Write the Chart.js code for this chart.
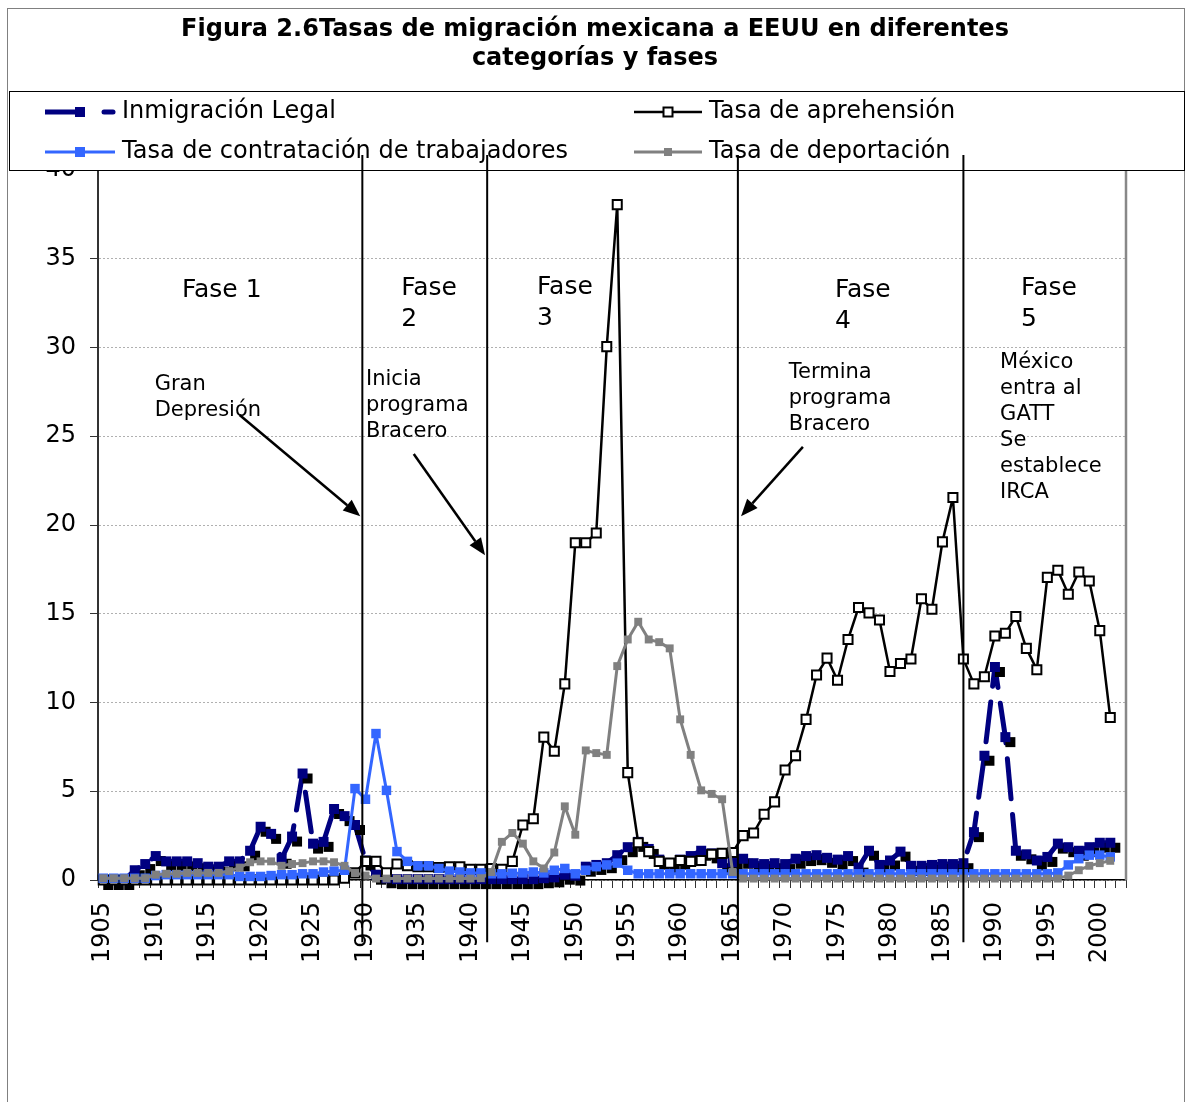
<!DOCTYPE html>
<html>
<head>
<meta charset="utf-8">
<title>Figura 2.6</title>
<script src="https://cdn.jsdelivr.net/npm/chart.js@4.4.0/dist/chart.umd.min.js"></script>
<style>
  html, body { margin: 0; padding: 0; background: #fff; }
  #wrap { width: 1186px; height: 1102px; position: relative; }
</style>
</head>
<body>
<div id="wrap"><canvas id="miGrafico"></canvas></div>
<script>
// categorias (anios 1905-2002)
const anios = [
  1905, 1906, 1907, 1908, 1909, 1910, 1911, 1912, 1913, 1914,
  1915, 1916, 1917, 1918, 1919, 1920, 1921, 1922, 1923, 1924,
  1925, 1926, 1927, 1928, 1929, 1930, 1931, 1932, 1933, 1934,
  1935, 1936, 1937, 1938, 1939, 1940, 1941, 1942, 1943, 1944,
  1945, 1946, 1947, 1948, 1949, 1950, 1951, 1952, 1953, 1954,
  1955, 1956, 1957, 1958, 1959, 1960, 1961, 1962, 1963, 1964,
  1965, 1966, 1967, 1968, 1969, 1970, 1971, 1972, 1973, 1974,
  1975, 1976, 1977, 1978, 1979, 1980, 1981, 1982, 1983, 1984,
  1985, 1986, 1987, 1988, 1989, 1990, 1991, 1992, 1993, 1994,
  1995, 1996, 1997, 1998, 1999, 2000, 2001, 2002,
];
const aniosEtiqueta = [1905, 1910, 1915, 1920, 1925, 1930, 1935, 1940, 1945, 1950,
  1955, 1960, 1965, 1970, 1975, 1980, 1985, 1990, 1995, 2000];
const valoresY = [0, 5, 10, 15, 20, 25, 30, 35, 40];

// series 1905-2001
const legal = [
  0, 0, 0, 0.55, 0.9,
  1.35, 1.05, 1.05, 1.05, 0.95,
  0.75, 0.75, 1.05, 1.05, 1.65,
  3.0, 2.6, 1.2, 2.45, 6.0,
  2.05, 2.15, 4.0, 3.6, 3.1,
  1.1, 0.3, 0.1, 0.05, 0.05,
  0.05, 0.05, 0.05, 0.05, 0.05,
  0.05, 0.05, 0.05, 0.05, 0.05,
  0.05, 0.05, 0.1, 0.15, 0.3,
  0.25, 0.75, 0.85, 0.95, 1.4,
  1.85, 2.15, 1.75, 1.15, 0.95,
  1.15, 1.35, 1.65, 1.5, 0.95,
  1.0, 1.2, 0.95, 0.9, 0.95,
  0.9, 1.2, 1.35, 1.4, 1.25,
  1.15, 1.35, 0.7, 1.65, 0.85,
  1.1, 1.6, 0.8, 0.8, 0.85,
  0.9, 0.9, 0.95, 2.7, 7.0,
  12.0, 8.05, 1.65, 1.45, 1.1,
  1.3, 2.05, 1.85, 1.65, 1.85,
  2.1, 2.1,
];
const aprehension = [
  0, 0, 0, 0, 0,
  0, 0, 0, 0, 0,
  0, 0, 0, 0, 0,
  0, 0, 0, 0, 0,
  0, 0, 0, 0.1, 0.4,
  1.05, 1.05, 0.4, 0.9, 0.8,
  0.75, 0.75, 0.7, 0.75, 0.75,
  0.6, 0.6, 0.65, 0.6, 1.05,
  3.1, 3.45, 8.05, 7.25, 11.05,
  19.0, 19.0, 19.55, 30.05, 38.05,
  6.05, 2.1, 1.6, 1.05, 0.95,
  1.1, 1.05, 1.1, 1.45, 1.5,
  1.55, 2.5, 2.65, 3.7, 4.4,
  6.2, 7.0, 9.05, 11.55, 12.5,
  11.25, 13.55, 15.35, 15.05, 14.65,
  11.75, 12.2, 12.45, 15.85, 15.25,
  19.05, 21.55, 12.45, 11.05, 11.45,
  13.75, 13.9, 14.85, 13.05, 11.85,
  17.05, 17.45, 16.1, 17.35, 16.85,
  14.05, 9.15,
];
const contratacion = [
  0.1, 0.1, 0.1, 0.1, 0.1,
  0.25, 0.3, 0.3, 0.3, 0.3,
  0.3, 0.3, 0.3, 0.2, 0.2,
  0.2, 0.25, 0.3, 0.3, 0.35,
  0.35, 0.45, 0.5, 0.55, 5.15,
  4.55, 8.25, 5.05, 1.6, 1.05,
  0.8, 0.8, 0.65, 0.5, 0.45,
  0.4, 0.4, 0.35, 0.35, 0.38,
  0.4, 0.45, 0.4, 0.55, 0.65,
  0.35, 0.55, 0.75, 0.85, 0.95,
  0.55, 0.35, 0.35, 0.35, 0.35,
  0.35, 0.35, 0.35, 0.35, 0.35,
  0.35, 0.35, 0.35, 0.35, 0.35,
  0.35, 0.35, 0.35, 0.35, 0.35,
  0.35, 0.35, 0.35, 0.35, 0.35,
  0.35, 0.35, 0.35, 0.35, 0.35,
  0.35, 0.35, 0.35, 0.35, 0.35,
  0.35, 0.35, 0.35, 0.35, 0.35,
  0.35, 0.4, 0.85, 1.2, 1.4,
  1.4, 1.3,
];
const deportacion = [
  0.1, 0.1, 0.1, 0.1, 0.1,
  0.3, 0.35, 0.35, 0.4, 0.4,
  0.4, 0.4, 0.5, 0.7, 1.0,
  1.05, 1.05, 0.8, 0.9, 0.95,
  1.05, 1.05, 1.0, 0.8, 0.4,
  0.25, 0.08, 0.08, 0.08, 0.08,
  0.08, 0.08, 0.08, 0.08, 0.08,
  0.08, 0.1, 0.45, 2.15, 2.65,
  2.05, 1.05, 0.65, 1.55, 4.15,
  2.55, 7.3, 7.15, 7.05, 12.05,
  13.55, 14.55, 13.55, 13.4, 13.05,
  9.05, 7.05, 5.05, 4.85, 4.55,
  0.45, 0.08, 0.08, 0.08, 0.08,
  0.08, 0.08, 0.08, 0.08, 0.08,
  0.08, 0.08, 0.08, 0.08, 0.08,
  0.08, 0.08, 0.08, 0.08, 0.08,
  0.08, 0.08, 0.08, 0.08, 0.08,
  0.08, 0.08, 0.08, 0.08, 0.08,
  0.08, 0.08, 0.25, 0.55, 0.8,
  0.95, 1.08,
];

const titulo = ["Figura 2.6Tasas de migración mexicana a EEUU en diferentes", "categorías y fases"];

// textos sobre el grafico (anio, valor del eje)
const fases = [
  { lineas: ["Fase 1"], anio: 1912.5, valor: 33.2 },
  { lineas: ["Fase", "2"], anio: 1933.4, valor: 33.3 },
  { lineas: ["Fase", "3"], anio: 1946.35, valor: 33.4 },
  { lineas: ["Fase", "4"], anio: 1974.75, valor: 33.2 },
  { lineas: ["Fase", "5"], anio: 1992.5, valor: 33.3 },
];
const notas = [
  { lineas: ["Gran", "Depresión"], anio: 1909.9, valor: 27.9 },
  { lineas: ["Inicia", "programa", "Bracero"], anio: 1930.05, valor: 28.2 },
  { lineas: ["Termina", "programa", "Bracero"], anio: 1970.35, valor: 28.6 },
  { lineas: ["México", "entra al", "GATT", "Se", "establece", "IRCA"], anio: 1990.5, valor: 29.15 },
];
const cortes = [1929.7, 1941.6, 1965.5, 1987.0];
const flechas = [
  { desde: [1918.0, 26.2], hasta: [1929.5, 20.5] },
  { desde: [1934.6, 24.0], hasta: [1941.4, 18.3] },
  { desde: [1971.7, 24.4], hasta: [1965.8, 20.5] },
];

Chart.defaults.font.family = "'DejaVu Sans', Verdana, sans-serif";
Chart.defaults.color = "#000";

// marcador con sombra negra para Inmigracion Legal
const marcaLegal = document.createElement("canvas");
marcaLegal.width = 30;
marcaLegal.height = 30;
(function () {
  const g = marcaLegal.getContext("2d");
  g.fillStyle = "#000000";
  g.fillRect(15, 15, 10, 10);
  g.fillStyle = "#000080";
  g.fillRect(10, 10, 10, 10);
})();

const xDe = (chart, anio) => chart.scales.x.getPixelForValue(anio - 1905);
const yDe = (chart, valor) => chart.scales.y.getPixelForValue(valor);

const extras = {
  id: "extras",
  beforeDraw(chart) {
    const ctx = chart.ctx;
    ctx.save();
    ctx.fillStyle = "#fff";
    ctx.fillRect(0, 0, chart.width, chart.height);
    ctx.strokeStyle = "#808080";
    ctx.lineWidth = 1;
    ctx.strokeRect(7.5, 8.5, 1177, 1110);
    ctx.fillStyle = "#000";
    ctx.font = "bold 24px 'DejaVu Sans'";
    ctx.textAlign = "center";
    ctx.textBaseline = "middle";
    ctx.fillText(titulo[0], 595, 30);
    ctx.fillText(titulo[1], 595, 59);
    ctx.restore();
  },
  afterDraw(chart) {
    const ctx = chart.ctx;
    const area = chart.chartArea;
    ctx.save();

    // borde derecho del area de trazado
    ctx.strokeStyle = "#888";
    ctx.lineWidth = 2.5;
    ctx.beginPath();
    ctx.moveTo(area.right, area.top);
    ctx.lineTo(area.right, area.bottom);
    ctx.stroke();

    // leyenda
    ctx.fillStyle = "#fff";
    ctx.fillRect(9, 91, 1176, 80);
    ctx.strokeStyle = "#000";
    ctx.lineWidth = 1;
    ctx.strokeRect(9.5, 91.5, 1175, 79);

    const linea = (x1, x2, y, color, ancho, cap) => {
      ctx.strokeStyle = color;
      ctx.lineWidth = ancho;
      ctx.lineCap = cap || "butt";
      ctx.beginPath();
      ctx.moveTo(x1, y);
      ctx.lineTo(x2, y);
      ctx.stroke();
    };
    linea(45, 82, 112, "#000080", 5);
    linea(104, 113, 112, "#000080", 5, "round");
    ctx.fillStyle = "#000080";
    ctx.fillRect(75, 107, 10, 10);
    linea(634, 702, 112, "#000", 2.5);
    ctx.fillStyle = "#fff";
    ctx.fillRect(663.5, 107.5, 9, 9);
    ctx.strokeStyle = "#000";
    ctx.lineWidth = 2;
    ctx.strokeRect(663.5, 107.5, 9, 9);
    linea(45, 115, 152, "#3366ff", 3);
    ctx.fillStyle = "#3366ff";
    ctx.fillRect(75, 147, 10, 10);
    linea(634, 702, 152, "#808080", 3);
    ctx.fillStyle = "#808080";
    ctx.fillRect(664, 148, 8, 8);

    ctx.lineCap = "butt";
    ctx.fillStyle = "#000";
    ctx.font = "24px 'DejaVu Sans'";
    ctx.textAlign = "left";
    ctx.textBaseline = "middle";
    ctx.fillText("Inmigración Legal", 122, 112);
    ctx.fillText("Tasa de aprehensión", 709, 112);
    ctx.fillText("Tasa de contratación de trabajadores", 122, 152);
    ctx.fillText("Tasa de deportación", 709, 152);

    // lineas de las fases
    ctx.strokeStyle = "#000";
    ctx.lineWidth = 2;
    cortes.forEach((a) => {
      const x = xDe(chart, a);
      ctx.beginPath();
      ctx.moveTo(x, 155);
      ctx.lineTo(x, yDe(chart, -3.5));
      ctx.stroke();
    });

    // flechas
    flechas.forEach((f) => {
      const x1 = xDe(chart, f.desde[0]), y1 = yDe(chart, f.desde[1]);
      const x2 = xDe(chart, f.hasta[0]), y2 = yDe(chart, f.hasta[1]);
      const ang = Math.atan2(y2 - y1, x2 - x1);
      const largo = 17, medio = 7;
      const bx = x2 - largo * Math.cos(ang), by = y2 - largo * Math.sin(ang);
      ctx.lineWidth = 2.5;
      ctx.beginPath();
      ctx.moveTo(x1, y1);
      ctx.lineTo(bx, by);
      ctx.stroke();
      ctx.beginPath();
      ctx.moveTo(x2, y2);
      ctx.lineTo(bx + medio * Math.sin(ang), by - medio * Math.cos(ang));
      ctx.lineTo(bx - medio * Math.sin(ang), by + medio * Math.cos(ang));
      ctx.closePath();
      ctx.fill();
    });

    // textos
    ctx.font = "25px 'DejaVu Sans'";
    fases.forEach((t) => {
      const x = xDe(chart, t.anio), y = yDe(chart, t.valor);
      t.lineas.forEach((l, i) => ctx.fillText(l, x, y + i * 31));
    });
    ctx.font = "21px 'DejaVu Sans'";
    notas.forEach((t) => {
      const x = xDe(chart, t.anio), y = yDe(chart, t.valor);
      t.lineas.forEach((l, i) => ctx.fillText(l, x, y + i * 26));
    });
    ctx.restore();
  },
};

let ctx = document.getElementById("miGrafico").getContext("2d");

let data = {
  labels: anios.map(String),
  datasets: [
    {
      label: "Inmigración Legal",
      data: legal,
      borderColor: "#000080",
      backgroundColor: "#000080",
      borderWidth: 5,
      borderDash: [40, 16],
      borderCapStyle: "round",
      borderJoinStyle: "round",
      pointStyle: marcaLegal,
      pointRadius: 7,
      order: 4,
      clip: false,
    },
    {
      label: "Tasa de aprehensión",
      data: aprehension,
      borderColor: "#000",
      backgroundColor: "#fff",
      borderWidth: 2.5,
      borderJoinStyle: "round",
      pointStyle: "rect",
      pointRadius: 6.4,
      pointBackgroundColor: "#fff",
      pointBorderColor: "#000",
      pointBorderWidth: 2,
      order: 3,
      clip: false,
    },
    {
      label: "Tasa de contratación de trabajadores",
      data: contratacion,
      borderColor: "#3366ff",
      backgroundColor: "#3366ff",
      borderWidth: 3,
      borderJoinStyle: "round",
      pointStyle: "rect",
      pointRadius: 6.7,
      pointBorderWidth: 0,
      order: 2,
      clip: false,
    },
    {
      label: "Tasa de deportación",
      data: deportacion,
      borderColor: "#808080",
      backgroundColor: "#808080",
      borderWidth: 3,
      borderJoinStyle: "round",
      pointStyle: "rect",
      pointRadius: 5.6,
      pointBorderWidth: 0,
      order: 1,
      clip: false,
    },
  ],
};

let options = {
  responsive: true,
  maintainAspectRatio: false,
  animation: false,
  events: [],
  layout: { padding: { top: 170, right: 60, bottom: 122, left: 0 } },
  elements: { line: { tension: 0 } },
  plugins: {
    legend: { display: false },
    title: { display: false },
    tooltip: { enabled: false },
  },
  scales: {
    x: {
      type: "category",
      offset: true,
      grid: {
        display: true,
        offset: true,
        drawOnChartArea: false,
        drawTicks: true,
        tickLength: 8,
        color: "#333",
        lineWidth: 1,
      },
      border: { display: true, color: "#000", width: 1.5 },
      ticks: {
        autoSkip: false,
        maxRotation: 90,
        minRotation: 90,
        padding: 14,
        color: "#000",
        font: { size: 24 },
        callback: function (v) {
          const a = Number(this.getLabelForValue(v));
          return aniosEtiqueta.includes(a) ? String(a) : "";
        },
      },
      afterFit: (s) => { s.height = 100; },
    },
    y: {
      min: valoresY[0],
      max: valoresY[valoresY.length - 1],
      ticks: { stepSize: 5, padding: 14, color: "#000", font: { size: 24 } },
      grid: { color: "#b0b0b0", lineWidth: 1, tickLength: 8, tickColor: "#333", drawTicks: true },
      border: { display: true, color: "#333", width: 2, dash: [2, 2] },
      afterFit: (s) => { s.width = 98; },
    },
  },
};

let chart = new Chart(ctx, {
  type: "line",
  data: data,
  options: options,
  plugins: [extras],
});
</script>
</body>
</html>
